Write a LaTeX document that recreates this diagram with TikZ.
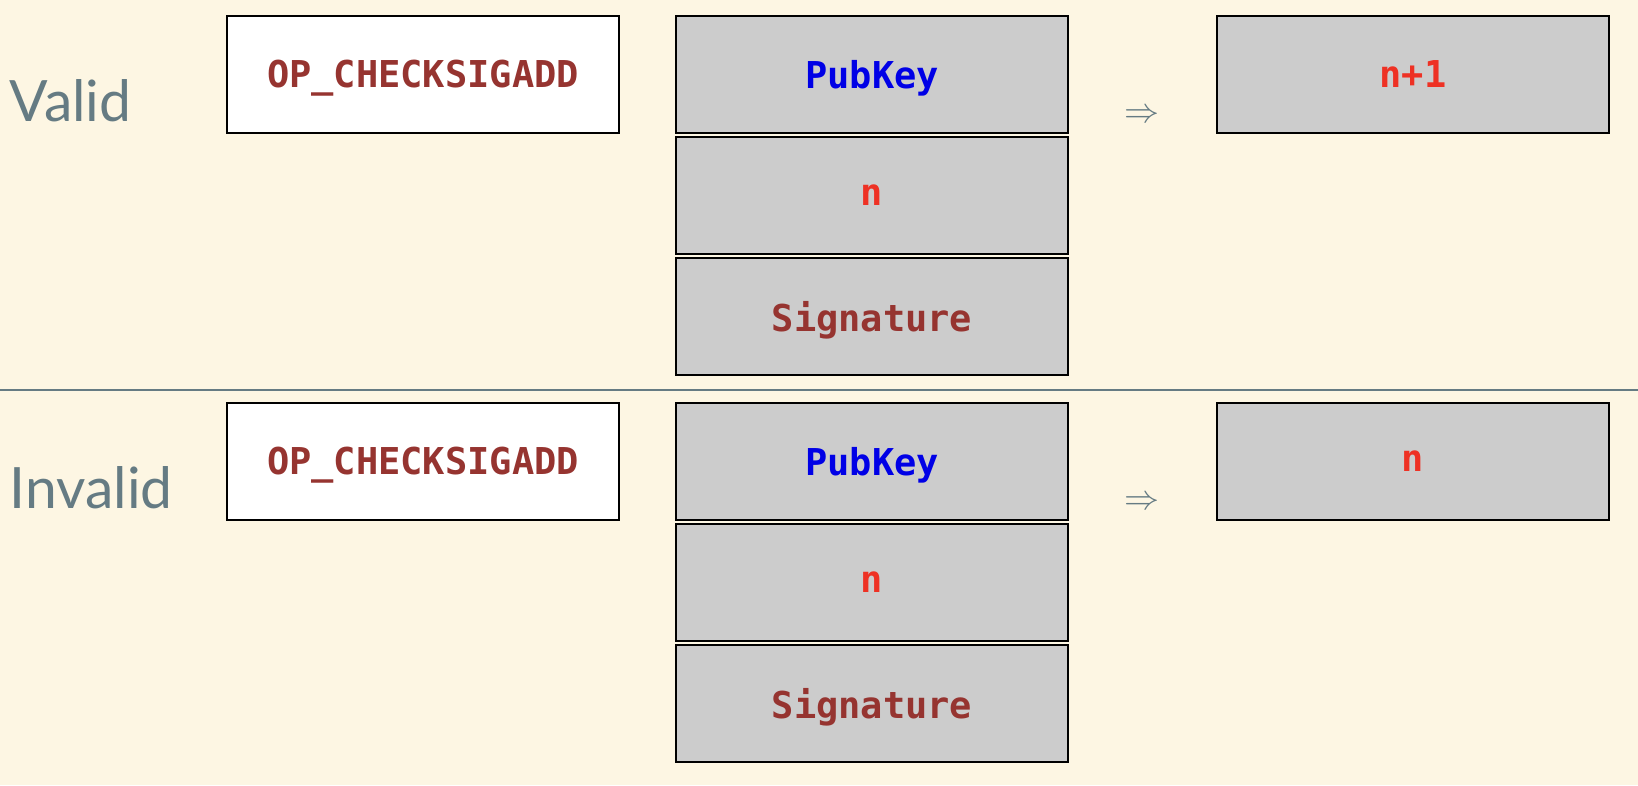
\documentclass[tikz,border=0pt]{standalone}
\usepackage{graphicx}
\usepackage{fontspec}
\setmainfont{Lato}
\setmonofont{DejaVu Sans Mono}
\definecolor{bg}{HTML}{FDF6E3}
\definecolor{base}{HTML}{657B83}
\definecolor{boxgray}{HTML}{CCCCCC}
\definecolor{opred}{HTML}{963430}
\definecolor{keyblue}{HTML}{0000E6}
\definecolor{numred}{HTML}{EE3124}
\tikzset{
  stackbox/.style={draw=black, line width=1.8pt, fill=boxgray, minimum width=392pt,
    minimum height=117pt, inner sep=0pt, text depth=0pt,
    font=\fontsize{37}{40}\selectfont\ttfamily\bfseries},
  opbox/.style={stackbox, fill=white, text=opred},
  rowlabel/.style={anchor=base west, inner sep=0pt, text=base,
    font=\fontsize{57}{60}\selectfont},
  impl/.style={inner sep=0pt, text=base},
  sepline/.style={draw=base, line width=2pt}
}
\newcommand{\bigimpl}{\scalebox{3.5}{$\Rightarrow$}}
\begin{document}
\begin{tikzpicture}[x=1pt,y=-1pt]
\fill[bg] (0,0) rectangle (1638,785);
\useasboundingbox (0,0) rectangle (1638,785);
% ---- Valid ----
\node[rowlabel] (v1) at (9.5,121.7) {Valid};
\node[opbox] (op1) at (423,74.2) {OP\_CHECKSIGADD};
\node[stackbox, text=keyblue] (pk1) at (872,74.2) {PubKey};
\node[stackbox, text=numred] (n1) at (872,195.3) {n};
\node[stackbox, text=opred] (sig1) at (872,316.3) {Signature};
\node[impl] (a1) at (1141.5,116.5) {\bigimpl};
\node[stackbox, text=numred] (r1) at (1413,74.2) {n+1};
% ---- separator ----
\coordinate (sepL) at (0,389.5);
\coordinate (sepR) at (1638,389.5);
\draw[sepline] (sepL) -- (sepR);
% ---- Invalid ----
\node[rowlabel] (v2) at (9.5,508.5) {Invalid};
\node[opbox] (op2) at (423,461.2) {OP\_CHECKSIGADD};
\node[stackbox, text=keyblue] (pk2) at (872,461.2) {PubKey};
\node[stackbox, text=numred] (n2) at (872,582.3) {n};
\node[stackbox, text=opred] (sig2) at (872,703.3) {Signature};
\node[impl] (a2) at (1141.5,503.5) {\bigimpl};
\node[stackbox, text=numred] (r2) at (1413,461.2) {n};
\end{tikzpicture}
\end{document}
